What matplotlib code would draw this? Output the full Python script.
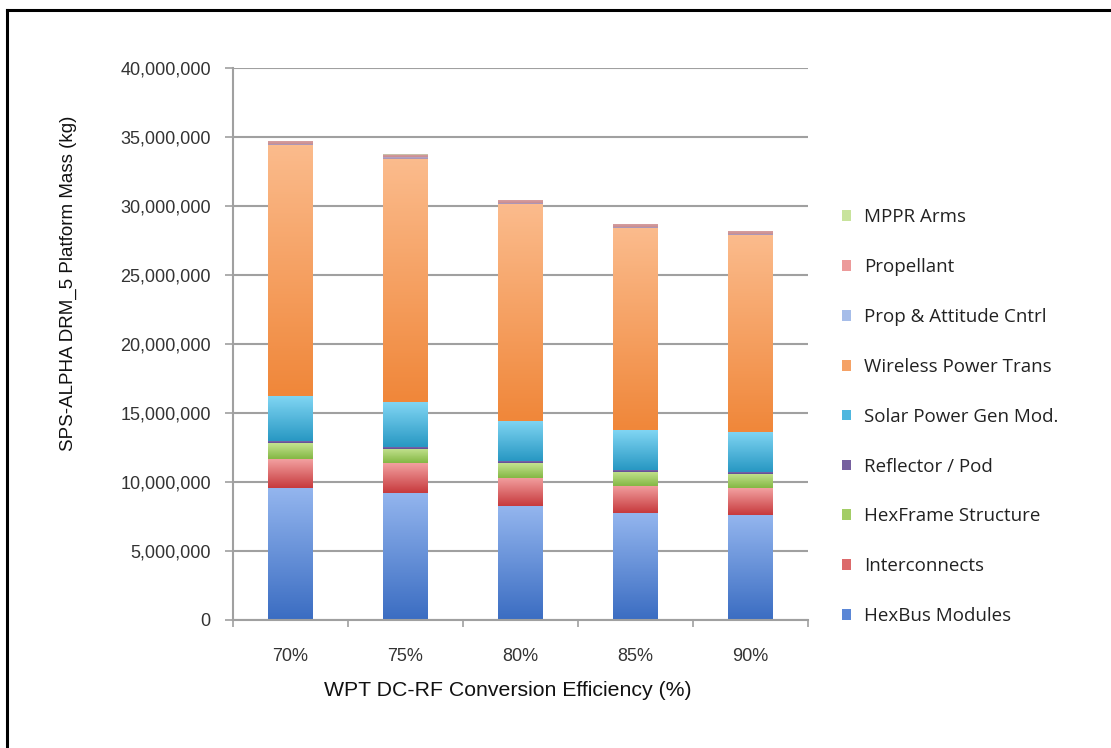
import numpy as np
import matplotlib.pyplot as plt
from matplotlib.colors import LinearSegmentedColormap
from matplotlib.patches import Patch
from matplotlib.lines import Line2D
from matplotlib.ticker import FuncFormatter, FixedLocator

# Data (values in kg)
efficiency = ["70%", "75%", "80%", "85%", "90%"]

hexbus       = [9550000, 9220000, 8260000, 7730000, 7600000]
interconnect = [2100000, 2150000, 2050000, 1980000, 1950000]
hexframe     = [1150000, 1050000, 1050000, 1040000, 1050000]
reflector    = [150000, 150000, 150000, 150000, 150000]
solar        = [3250000, 3250000, 2930000, 2870000, 2900000]
wireless     = [18200000, 17600000, 15700000, 14630000, 14250000]
prop_att     = [100000, 100000, 100000, 100000, 100000]
propellant   = [200000, 200000, 200000, 190000, 180000]
mppr         = [20000, 20000, 20000, 20000, 20000]

series = [
    ("HexBus Modules", hexbus, "#93b5ee", "#3b6dc2"),
    ("Interconnects", interconnect, "#f2a0a0", "#c73a3d"),
    ("HexFrame Structure", hexframe, "#c4e390", "#84b744"),
    ("Reflector / Pod", reflector, "#8a74b8", "#5e4a90"),
    ("Solar Power Gen Mod.", solar, "#80d5f3", "#2898c3"),
    ("Wireless Power Trans", wireless, "#fbbb8c", "#f0873a"),
    ("Prop & Attitude Cntrl", prop_att, "#b8a8c8", "#a890b0"),
    ("Propellant", propellant, "#d8a0a0", "#c88c90"),
    ("MPPR Arms", mppr, "#d0c8b0", "#c0b8a0"),
]
legend_colors = ["#5b87d6", "#dc6a6b", "#a3cd66", "#76609f", "#4fb7df",
                 "#f5a266", "#a6bde9", "#ec9a9a", "#c8e39c"]

fig = plt.figure(figsize=(11.11, 7.48), dpi=100)
ax = fig.add_axes([233 / 1111, 1 - 620 / 748, 575 / 1111, 552 / 748])

x = np.arange(len(efficiency))
bottom = np.zeros(len(efficiency))
grad = np.linspace(0, 1, 64).reshape(-1, 1)
handles = []
for (name, vals, c_top, c_bot), lc in zip(series, legend_colors):
    vals = np.array(vals, dtype=float)
    cmap = LinearSegmentedColormap.from_list(name, [c_bot, c_top])
    bars = ax.bar(x, vals, width=0.39, bottom=bottom, color=cmap(0.5),
                  linewidth=0, zorder=2)
    for rect in bars:
        bx, by = rect.get_x(), rect.get_y()
        w, h = rect.get_width(), rect.get_height()
        im = ax.imshow(grad, extent=(bx, bx + w, by, by + h), origin="lower",
                       cmap=cmap, aspect="auto", zorder=2.1,
                       interpolation="bicubic")
        im.set_clip_path(rect)
    bottom += vals
    handles.append(Patch(facecolor=lc, edgecolor="none", label=name))

ax.set_xlim(-0.5, len(efficiency) - 0.5)
ax.set_ylim(0, 40000000)
ax.set_yticks(np.arange(0, 40000001, 5000000))
ax.yaxis.set_major_formatter(FuncFormatter(lambda v, p: f"{int(v):,}"))
ax.grid(axis="y", color="#a0a0a0", linewidth=1.5, zorder=0)
ax.set_axisbelow(True)

ax.set_xticks(x)
ax.set_xticklabels(efficiency)
ax.xaxis.set_minor_locator(FixedLocator(np.arange(-0.5, len(efficiency), 1.0)))
ax.tick_params(axis="x", which="major", length=0, pad=20,
               labelsize=13, labelcolor="#333333")
ax.tick_params(axis="x", which="minor", length=5, color="#a0a0a0", width=1.2)
ax.tick_params(axis="y", length=6, color="#a0a0a0", width=1.2, pad=10,
               labelsize=13, labelcolor="#333333")

for s in ["top", "right"]:
    ax.spines[s].set_visible(False)
for s in ["left", "bottom"]:
    ax.spines[s].set_color("#a0a0a0")
    ax.spines[s].set_linewidth(1.5)

for t in ax.get_xticklabels() + ax.get_yticklabels():
    t.set_family("Liberation Sans")

ax.set_xlabel("WPT DC-RF Conversion Efficiency (%)", fontsize=15.3,
              family="Liberation Sans", color="#111111")
ax.xaxis.set_label_coords(0.478, -0.11)
ax.set_ylabel("SPS-ALPHA DRM_5 Platform Mass (kg)", fontsize=13.5,
              family="Liberation Sans", color="#111111")
ax.yaxis.set_label_coords(-0.271, 0.61)

leg = fig.legend(handles=handles[::-1], loc="center left",
                 bbox_to_anchor=(842 / 1111, 1 - 416.7 / 748),
                 frameon=False, borderpad=0, borderaxespad=0,
                 handlelength=0.5, handleheight=0.5, handletextpad=0.7,
                 labelspacing=1.7, prop={"family": "Open Sans", "size": 13.5})
for t in leg.get_texts():
    t.set_color("#222222")

# frame lines along the top and left of the picture
fig.add_artist(Line2D([7 / 1111, 1], [1 - 10 / 748, 1 - 10 / 748],
                      color="black", linewidth=2.2))
fig.add_artist(Line2D([7 / 1111, 7 / 1111], [0, 1 - 10 / 748],
                      color="black", linewidth=2.2))

fig.savefig("out.png", dpi=100)
